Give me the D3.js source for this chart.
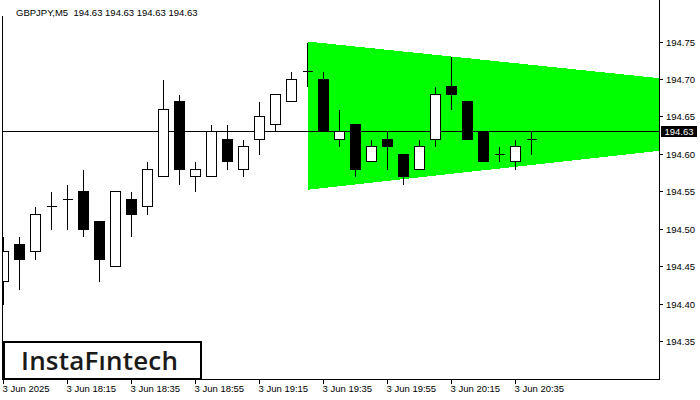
<!DOCTYPE html>
<html><head><meta charset="utf-8">
<script src="https://cdn.jsdelivr.net/npm/d3@7"></script>
<style>body{margin:0;background:#fff}svg{display:block}</style>
</head><body>
<svg id="c" width="700" height="400"></svg>
<script>
// ---- data ----
const title = "GBPJPY,M5  194.63 194.63 194.63 194.63";
const times = ["17:55","18:00","18:05","18:10","18:15","18:20","18:25","18:30","18:35","18:40",
  "18:45","18:50","18:55","19:00","19:05","19:10","19:15","19:20","19:25","19:30",
  "19:35","19:40","19:45","19:50","19:55","20:00","20:05","20:10","20:15","20:20",
  "20:25","20:30","20:35","20:40"];
const open  = [194.43,194.48,194.47,194.53,194.54,194.55,194.51,194.45,194.54,194.53,
  194.57,194.67,194.57,194.57,194.62,194.58,194.62,194.64,194.67,194.71,
  194.70,194.62,194.64,194.59,194.62,194.60,194.58,194.62,194.69,194.67,
  194.63,194.60,194.59,194.62];
const high  = [194.49,194.49,194.53,194.55,194.56,194.58,194.51,194.55,194.55,194.59,
  194.70,194.68,194.59,194.64,194.64,194.62,194.67,194.68,194.71,194.75,
  194.71,194.66,194.64,194.62,194.63,194.60,194.62,194.69,194.73,194.67,
  194.63,194.61,194.62,194.63];
const low   = [194.40,194.42,194.46,194.50,194.50,194.49,194.43,194.45,194.49,194.52,
  194.57,194.56,194.55,194.57,194.58,194.57,194.60,194.63,194.67,194.69,
  194.63,194.61,194.57,194.59,194.58,194.56,194.58,194.61,194.66,194.62,
  194.59,194.59,194.58,194.60];
const close = [194.47,194.46,194.52,194.53,194.54,194.50,194.46,194.55,194.52,194.58,
  194.66,194.58,194.58,194.63,194.59,194.61,194.65,194.68,194.70,194.71,
  194.63,194.63,194.58,194.61,194.61,194.57,194.61,194.68,194.68,194.62,
  194.59,194.60,194.61,194.62];
const priceTicks = [194.35,194.40,194.45,194.50,194.55,194.60,194.65,194.70,194.75];
const timeTicks = ["17:55","18:15","18:35","18:55","19:15","19:35","19:55","20:15","20:35"];
const timeTickLabels = ["3 Jun 2025","3 Jun 18:15","3 Jun 18:35","3 Jun 18:55","3 Jun 19:15",
  "3 Jun 19:35","3 Jun 19:55","3 Jun 20:15","3 Jun 20:35"];
const bid = 194.63;
const patternTimes = ["19:30","21:20"];
const patternUpper = [194.750,194.701];
const patternLower = [194.552,194.604];
const logoText = "InstaFıntech";

// ---- layout ----
const svg = d3.select("#c");
const parse = d3.utcParse("%H:%M");
const plotL = 3, plotR = 659, plotB = 379;
const x = d3.scaleUtc().domain([parse("17:55"), parse("21:20")]).range([3.5, 659.5]);
const y = d3.scaleLinear().domain([194.35, 194.75]).range([341, 41.5]);
const Y = v => Math.round(y(v)) + 0.5;
const font = "Liberation Sans, Arial, sans-serif";

svg.append("rect").attr("width",700).attr("height",400).attr("fill","#fff");
svg.append("clipPath").attr("id","plot").append("rect")
  .attr("x",plotL).attr("y",0).attr("width",plotR-plotL).attr("height",plotB);
const g = svg.append("g").attr("clip-path","url(#plot)");

// triangle pattern
const pts = [
  [x(parse(patternTimes[0])), y(patternUpper[0])],
  [x(parse(patternTimes[1])), y(patternUpper[1])],
  [x(parse(patternTimes[1])), y(patternLower[1])],
  [x(parse(patternTimes[0])), y(patternLower[0])]
];
g.append("polygon").attr("points", pts.map(p=>p.join(",")).join(" "))
  .attr("fill","#00ff00").attr("shape-rendering","crispEdges");

// bid line
g.append("line").attr("x1",plotL).attr("x2",plotR).attr("y1",Y(bid)).attr("y2",Y(bid))
  .attr("stroke","#000").attr("stroke-width",1);

// candles
const data = times.map((t,i)=>({t:parse(t),o:open[i],h:high[i],l:low[i],c:close[i]}));
const cg = g.append("g").attr("shape-rendering","crispEdges");
data.forEach(d=>{
  const cx = Math.round(x(d.t)-0.5)+0.5;
  cg.append("line").attr("x1",cx).attr("x2",cx).attr("y1",Y(d.h)).attr("y2",Y(d.l))
    .attr("stroke","#000");
  if (Math.abs(d.o-d.c) < 1e-9) {
    cg.append("line").attr("x1",cx-5).attr("x2",cx+5).attr("y1",Y(d.o)).attr("y2",Y(d.o))
      .attr("stroke","#000");
  } else {
    const top = Y(Math.max(d.o,d.c)), bot = Y(Math.min(d.o,d.c));
    cg.append("rect").attr("x",cx-5).attr("y",top).attr("width",10).attr("height",bot-top)
      .attr("fill", d.c>d.o ? "#fff" : "#000").attr("stroke","#000");
  }
});

// frame
svg.append("line").attr("x1",2.5).attr("x2",2.5).attr("y1",16).attr("y2",plotB+0.5).attr("stroke","#000");
svg.append("line").attr("x1",2).attr("x2",plotR+1).attr("y1",plotB+0.5).attr("y2",plotB+0.5).attr("stroke","#000");
svg.append("line").attr("x1",plotR+0.5).attr("x2",plotR+0.5).attr("y1",0).attr("y2",plotB+1).attr("stroke","#000");

// y axis
const ya = svg.append("g");
priceTicks.forEach(v=>{
  ya.append("line").attr("x1",plotR+1).attr("x2",plotR+4).attr("y1",Y(v)).attr("y2",Y(v)).attr("stroke","#000");
  ya.append("text").attr("x",plotR+7).attr("y",Y(v)).attr("dy","0.35em")
    .attr("font-family",font).attr("font-size","9.5px").attr("fill","#000").text(d3.format(".2f")(v));
});
// bid label
ya.append("rect").attr("x",plotR+2).attr("y",Y(bid)-5.5).attr("width",36).attr("height",11).attr("fill","#000");
ya.append("text").attr("x",plotR+20).attr("y",Y(bid)).attr("dy","0.35em").attr("text-anchor","middle")
  .attr("font-family",font).attr("font-size","9.5px").attr("fill","#fff").text(d3.format(".2f")(bid));

// x axis
const xa = svg.append("g");
timeTicks.forEach((t,i)=>{
  const tx = Math.round(x(parse(t))-0.5)+0.5;
  xa.append("line").attr("x1",tx).attr("x2",tx).attr("y1",plotB).attr("y2",plotB+5).attr("stroke","#000");
  xa.append("text").attr("x",tx-1).attr("y",392).attr("font-family",font).attr("font-size","9.5px")
    .attr("fill","#000").text(timeTickLabels[i]);
});

// title
svg.append("text").attr("x",16).attr("y",15.5).attr("font-family",font).attr("font-size","9.5px")
  .attr("fill","#000").style("white-space","pre").text(title);

// logo
svg.append("rect").attr("x",4).attr("y",342).attr("width",197).attr("height",37)
  .attr("fill","#fff").attr("stroke","#000").attr("stroke-width",2);
svg.append("text").attr("x",21).attr("y",369.5).attr("font-family","Open Sans, sans-serif")
  .attr("font-size","26px").attr("font-weight",600).attr("letter-spacing","0.2px")
  .attr("fill","#1a1a1a").text(logoText);
</script>
</body></html>
